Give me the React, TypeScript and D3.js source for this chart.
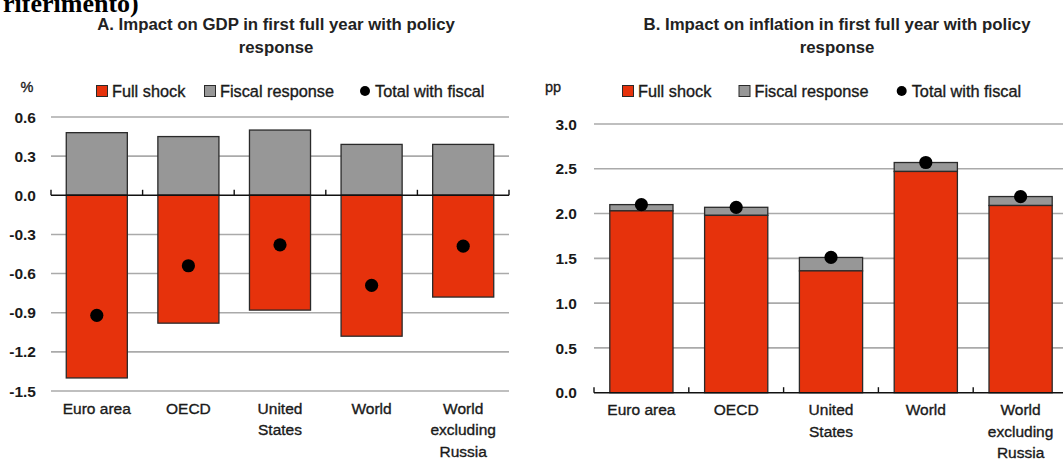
import React from "react";
import * as d3 from "d3";

const categories = ["Euro area", "OECD", "United States", "World", "World excluding Russia"];
const categoryLines = [["Euro area"], ["OECD"], ["United", "States"], ["World"], ["World", "excluding", "Russia"]];

const gdpFullShock = [-1.4, -0.98, -0.88, -1.08, -0.78];
const gdpFiscal = [0.48, 0.45, 0.5, 0.39, 0.39];
const gdpTotal = [-0.92, -0.54, -0.38, -0.69, -0.39];
const gdpTicks = [-1.5, -1.2, -0.9, -0.6, -0.3, 0.0, 0.3, 0.6];

const infFullShock = [2.03, 1.98, 1.36, 2.47, 2.09];
const infFiscal = [0.07, 0.09, 0.15, 0.1, 0.1];
const infTotal = [2.1, 2.07, 1.51, 2.57, 2.19];
const infTicks = [0.0, 0.5, 1.0, 1.5, 2.0, 2.5, 3.0];

const RED = "#e6320c";
const GREY = "#979797";
const GRID = "#aaaaaa";
const STROKE = "#2a2a2a";
const FONT = "'Liberation Sans', Arial, sans-serif";
const TXT = "#1a1a1a";

type PanelProps = {
  title: string[];
  titleX: number;
  unit: string;
  unitX: number;
  x0: number;
  x1: number;
  yTop: number;
  yBottom: number;
  domain: [number, number];
  ticks: number[];
  tickRight: number;
  full: number[];
  fiscal: number[];
  total: number[];
  stacked: boolean;
  legend: { red: number; grey: number; dot: number };
  labelY: number;
};

function Panel(p: PanelProps) {
  const x = d3
    .scaleBand<string>()
    .domain(categories)
    .range([p.x0, p.x1])
    .paddingInner(1 / 3)
    .paddingOuter(1 / 6);
  const y = d3.scaleLinear().domain(p.domain).range([p.yBottom, p.yTop]);
  const step = x.step();
  const y0 = y(0);
  const soft = { stroke: TXT, strokeWidth: 0.35 };
  return (
    <g>
      {p.title.map((t, i) => (
        <text key={i} x={p.titleX} y={29.5 + i * 23.5} textAnchor="middle" fontFamily={FONT} fontWeight="bold" fontSize={16.8} fill="#222">
          {t}
        </text>
      ))}
      <text x={p.unitX} y={92} textAnchor="middle" fontFamily={FONT} fontSize={14.5} fill={TXT} {...soft}>
        {p.unit}
      </text>
      {/* legend */}
      <rect x={p.legend.red} y={85.5} width={11} height={11} fill={RED} stroke={STROKE} strokeWidth={1} />
      <text x={p.legend.red + 15.5} y={97} fontFamily={FONT} fontSize={16.3} fill={TXT} {...soft}>Full shock</text>
      <rect x={p.legend.grey} y={85.5} width={11} height={11} fill={GREY} stroke={STROKE} strokeWidth={1} />
      <text x={p.legend.grey + 15.5} y={97} fontFamily={FONT} fontSize={16.3} fill={TXT} {...soft}>Fiscal response</text>
      <circle cx={p.legend.dot} cy={91} r={5} fill="#000" />
      <text x={p.legend.dot + 10} y={97} fontFamily={FONT} fontSize={16.3} fill={TXT} {...soft}>Total with fiscal</text>
      {/* gridlines & tick labels */}
      {p.ticks.map((t) => (
        <g key={t}>
          {t !== 0 && <line x1={p.x0} x2={p.x1} y1={y(t)} y2={y(t)} stroke={GRID} strokeWidth={1.6} />}
          <text x={p.tickRight} y={y(t) + 5.6} textAnchor="end" fontFamily={FONT} fontWeight="bold" fontSize={15.5} fill="#1a1a1a">
            {t.toFixed(1)}
          </text>
        </g>
      ))}
      {/* bars */}
      {categories.map((c, i) => {
        const bx = x(c)!;
        const bw = x.bandwidth();
        const f = p.full[i];
        const s = p.fiscal[i];
        let redTop: number, redBot: number, greyTop: number, greyBot: number;
        if (p.stacked) {
          redTop = y(f);
          redBot = y(0);
          greyTop = y(f + s);
          greyBot = y(f);
        } else {
          redTop = y(0);
          redBot = y(f);
          greyTop = y(s);
          greyBot = y(0);
        }
        return (
          <g key={c}>
            <rect x={bx} y={greyTop} width={bw} height={greyBot - greyTop} fill={GREY} stroke={STROKE} strokeWidth={1.3} />
            <rect x={bx} y={redTop} width={bw} height={redBot - redTop} fill={RED} stroke={STROKE} strokeWidth={1.3} />
          </g>
        );
      })}
      {/* zero axis with category boundary ticks */}
      <line x1={p.x0} x2={p.x1} y1={y0} y2={y0} stroke="#111" strokeWidth={1.4} />
      {d3.range(categories.length + 1).map((i) => (
        <line key={i} x1={p.x0 + i * step} x2={p.x0 + i * step} y1={y0} y2={y0 - 5.5} stroke="#111" strokeWidth={1.4} />
      ))}
      {/* dots */}
      {categories.map((c, i) => (
        <circle key={c} cx={x(c)! + x.bandwidth() / 2} cy={y(p.total[i])} r={6.6} fill="#000" />
      ))}
      {/* category labels */}
      {categories.map((c, i) => (
        <text key={c} x={x(c)! + x.bandwidth() / 2} textAnchor="middle" fontFamily={FONT} fontSize={15.5} fill={TXT} {...soft}>
          {categoryLines[i].map((l, j) => (
            <tspan key={j} x={x(c)! + x.bandwidth() / 2} y={p.labelY + j * 21.5}>
              {l}
            </tspan>
          ))}
        </text>
      ))}
    </g>
  );
}

export default function App() {
  return (
    <svg width={1063} height={459} style={{ position: "absolute", left: 0, top: 0, background: "#fff" }}>
      <rect width={1063} height={459} fill="#fff" />
      <text x={3} y={12} fontFamily="'Liberation Serif', 'Times New Roman', serif" fontWeight="bold" fontSize={26} fill="#000">
        riferimento)
      </text>
      <Panel
        title={["A. Impact on GDP in first full year with policy", "response"]}
        titleX={276}
        unit="%"
        unitX={27}
        x0={51}
        x1={509}
        yTop={117}
        yBottom={391}
        domain={[-1.5, 0.6]}
        ticks={gdpTicks}
        tickRight={36}
        full={gdpFullShock}
        fiscal={gdpFiscal}
        total={gdpTotal}
        stacked={false}
        legend={{ red: 96.5, grey: 204.5, dot: 365 }}
        labelY={413.5}
      />
      <Panel
        title={["B. Impact on inflation in first full year with policy", "response"]}
        titleX={837}
        unit="pp"
        unitX={553}
        x0={594}
        x1={1068}
        yTop={124}
        yBottom={392.7}
        domain={[0, 3]}
        ticks={infTicks}
        tickRight={577}
        full={infFullShock}
        fiscal={infFiscal}
        total={infTotal}
        stacked={true}
        legend={{ red: 622.5, grey: 739, dot: 901.7 }}
        labelY={415}
      />
    </svg>
  );
}
